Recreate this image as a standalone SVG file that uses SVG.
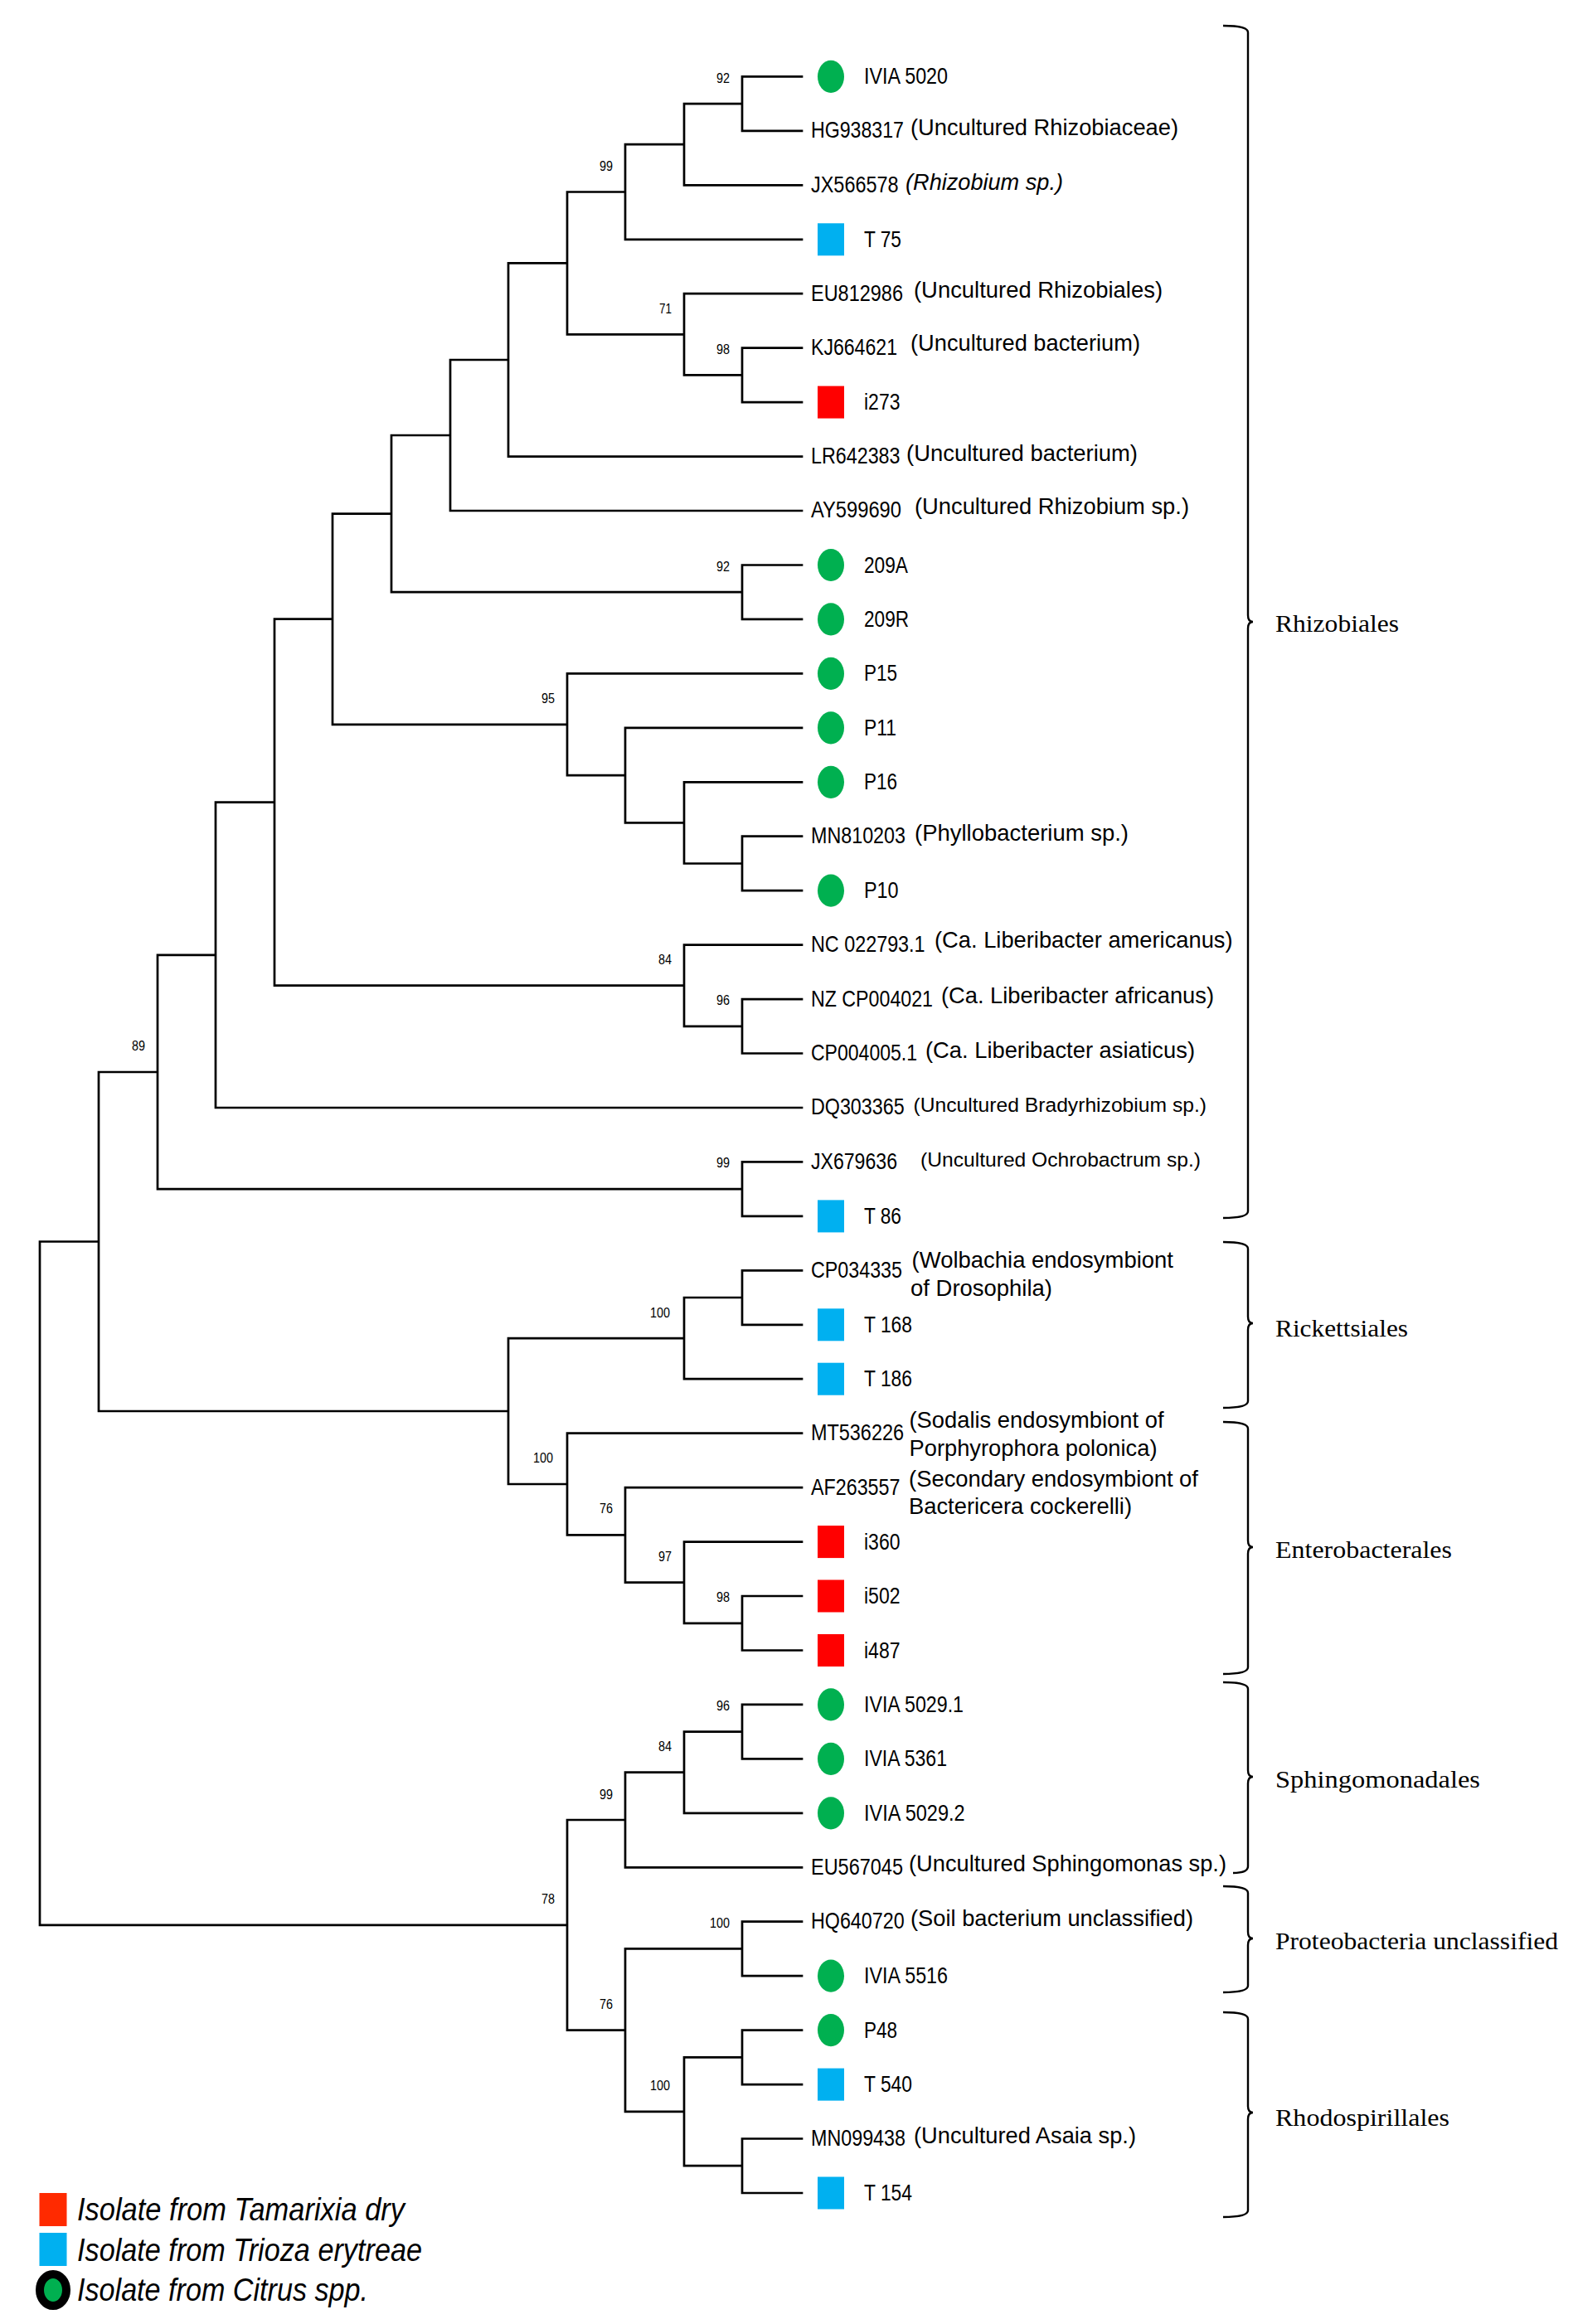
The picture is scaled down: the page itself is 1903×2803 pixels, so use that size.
<svg xmlns="http://www.w3.org/2000/svg" width="1903" height="2803" viewBox="0 0 1903 2803">
<defs>
<style>
.br{fill:none;stroke:#000;stroke-width:2.7;stroke-linecap:square}
.brace{fill:none;stroke:#000;stroke-width:2.4}
.t{font-family:"Liberation Sans",Arial,sans-serif;font-size:28px;fill:#000}
.a{font-size:24.5px}
.s{font-size:24.5px}
.it{font-style:italic}
.bs{font-family:"Liberation Sans",Arial,sans-serif;font-size:17px;fill:#000}
.cl{font-family:"Liberation Serif","Times New Roman",serif;font-size:29px;fill:#000}
.lg{font-family:"Liberation Sans",Arial,sans-serif;font-size:38px;font-style:italic;fill:#000}
.cir{fill:#00b050}
.sq{fill:#00b0f0}
.rd{fill:#ff0000}
</style>
</defs>
<rect width="1903" height="2803" fill="#fff"/>

<g id="connectors" class="br">
<path d="M895 92.4V157.9M895 92.4H967M895 157.9H967
M825 125.2V223.3M825 125.2H895M825 223.3H967
M754 174.2V288.8M754 174.2H825M754 288.8H967
M895 419.7V485.1M895 419.7H967M895 485.1H967
M825 354.2V452.4M825 354.2H967M825 452.4H895
M684 231.5V403.3M684 231.5H754M684 403.3H825
M613 317.4V550.6M613 317.4H684M613 550.6H967
M543 434V616M543 434H613M543 616H967
M895 681.5V746.9M895 681.5H967M895 746.9H967
M472 525V714.2M472 525H543M472 714.2H895
M895 1008.7V1074.2M895 1008.7H967M895 1074.2H967
M825 943.3V1041.5M825 943.3H967M825 1041.5H895
M754 877.8V992.4M754 877.8H967M754 992.4H825
M684 812.4V935.1M684 812.4H967M684 935.1H754
M401 619.6V873.8M401 619.6H472M401 873.8H684
M895 1205.1V1270.5M895 1205.1H967M895 1270.5H967
M825 1139.6V1237.8M825 1139.6H967M825 1237.8H895
M331 746.7V1188.7M331 746.7H401M331 1188.7H825
M260 967.7V1336M260 967.7H331M260 1336H967
M895 1401.4V1466.9M895 1401.4H967M895 1466.9H967
M190 1151.9V1434.2M190 1151.9H260M190 1434.2H895
M895 1532.3V1597.8M895 1532.3H967M895 1597.8H967
M825 1565V1663.2M825 1565H895M825 1663.2H967
M895 1925V1990.5M895 1925H967M895 1990.5H967
M825 1859.6V1957.8M825 1859.6H967M825 1957.8H895
M754 1794.1V1908.7M754 1794.1H967M754 1908.7H825
M684 1728.7V1851.4M684 1728.7H967M684 1851.4H754
M613 1614.1V1790M613 1614.1H825M613 1790H684
M119 1293V1702M119 1293H190M119 1702H613
M895 2055.9V2121.4M895 2055.9H967M895 2121.4H967
M825 2088.6V2186.8M825 2088.6H895M825 2186.8H967
M754 2137.7V2252.3M754 2137.7H825M754 2252.3H967
M895 2317.7V2383.2M895 2317.7H967M895 2383.2H967
M895 2448.6V2514.1M895 2448.6H967M895 2514.1H967
M895 2579.5V2645M895 2579.5H967M895 2645H967
M825 2481.3V2612.2M825 2481.3H895M825 2612.2H895
M754 2350.4V2546.8M754 2350.4H895M754 2546.8H825
M684 2195V2448.6M684 2195H754M684 2448.6H754
M48 1497.5V2321.8M48 1497.5H119M48 2321.8H684"/>
</g>

<g id="bootstrap" class="bs" text-anchor="end">
<text x="880" y="100" textLength="16" lengthAdjust="spacingAndGlyphs">92</text>
<text x="739" y="206" textLength="16" lengthAdjust="spacingAndGlyphs">99</text>
<text x="810" y="378" textLength="15" lengthAdjust="spacingAndGlyphs">71</text>
<text x="880" y="427" textLength="16" lengthAdjust="spacingAndGlyphs">98</text>
<text x="880" y="689" textLength="16" lengthAdjust="spacingAndGlyphs">92</text>
<text x="669" y="848" textLength="16" lengthAdjust="spacingAndGlyphs">95</text>
<text x="810" y="1163" textLength="16" lengthAdjust="spacingAndGlyphs">84</text>
<text x="880" y="1212" textLength="16" lengthAdjust="spacingAndGlyphs">96</text>
<text x="175" y="1267" textLength="16" lengthAdjust="spacingAndGlyphs">89</text>
<text x="880" y="1408" textLength="16" lengthAdjust="spacingAndGlyphs">99</text>
<text x="808" y="1589" textLength="24" lengthAdjust="spacingAndGlyphs">100</text>
<text x="667" y="1764" textLength="24" lengthAdjust="spacingAndGlyphs">100</text>
<text x="739" y="1825" textLength="16" lengthAdjust="spacingAndGlyphs">76</text>
<text x="810" y="1883" textLength="16" lengthAdjust="spacingAndGlyphs">97</text>
<text x="880" y="1932" textLength="16" lengthAdjust="spacingAndGlyphs">98</text>
<text x="880" y="2063" textLength="16" lengthAdjust="spacingAndGlyphs">96</text>
<text x="810" y="2112" textLength="16" lengthAdjust="spacingAndGlyphs">84</text>
<text x="739" y="2170" textLength="16" lengthAdjust="spacingAndGlyphs">99</text>
<text x="669" y="2296" textLength="16" lengthAdjust="spacingAndGlyphs">78</text>
<text x="739" y="2423" textLength="16" lengthAdjust="spacingAndGlyphs">76</text>
<text x="880" y="2325" textLength="24" lengthAdjust="spacingAndGlyphs">100</text>
<text x="808" y="2521" textLength="24" lengthAdjust="spacingAndGlyphs">100</text>
</g>

<g id="leaves" class="t">
<g id="leaf-IVIA5020"><ellipse class="cir" cx="1002" cy="92.4" rx="16" ry="19.6"/><text x="1042" y="101.4" textLength="101" lengthAdjust="spacingAndGlyphs">IVIA 5020</text></g>
<g id="leaf-HG938317"><text class="a" x="978" y="166.4" transform="translate(0 166.4) scale(1 1.12) translate(0 -166.4)" textLength="112" lengthAdjust="spacingAndGlyphs">HG938317</text><text x="1098" y="163" textLength="323" lengthAdjust="spacingAndGlyphs">(Uncultured Rhizobiaceae)</text></g>
<g id="leaf-JX566578"><text class="a" x="978" y="231.8" transform="translate(0 231.8) scale(1 1.12) translate(0 -231.8)" textLength="105.6" lengthAdjust="spacingAndGlyphs">JX566578</text><text class="it" x="1092" y="229.3" textLength="190" lengthAdjust="spacingAndGlyphs">(Rhizobium sp.)</text></g>
<g id="leaf-T75"><rect class="sq" x="986" y="269.3" width="32" height="39"/><text x="1042" y="297.8" textLength="45" lengthAdjust="spacingAndGlyphs">T 75</text></g>
<g id="leaf-EU812986"><text class="a" x="978" y="362.7" transform="translate(0 362.7) scale(1 1.12) translate(0 -362.7)" textLength="111" lengthAdjust="spacingAndGlyphs">EU812986</text><text x="1102" y="359.2" textLength="300" lengthAdjust="spacingAndGlyphs">(Uncultured Rhizobiales)</text></g>
<g id="leaf-KJ664621"><text class="a" x="978" y="428.2" transform="translate(0 428.2) scale(1 1.12) translate(0 -428.2)" textLength="104" lengthAdjust="spacingAndGlyphs">KJ664621</text><text x="1098" y="422.5" textLength="277" lengthAdjust="spacingAndGlyphs">(Uncultured bacterium)</text></g>
<g id="leaf-i273"><rect class="rd" x="986" y="465.6" width="32" height="39"/><text x="1042" y="494.1" textLength="43.5" lengthAdjust="spacingAndGlyphs">i273</text></g>
<g id="leaf-LR642383"><text class="a" x="978" y="559.1" transform="translate(0 559.1) scale(1 1.12) translate(0 -559.1)" textLength="107.5" lengthAdjust="spacingAndGlyphs">LR642383</text><text x="1093" y="556" textLength="279" lengthAdjust="spacingAndGlyphs">(Uncultured bacterium)</text></g>
<g id="leaf-AY599690"><text class="a" x="978" y="624.5" transform="translate(0 624.5) scale(1 1.12) translate(0 -624.5)" textLength="109" lengthAdjust="spacingAndGlyphs">AY599690</text><text x="1103" y="619.5" textLength="331" lengthAdjust="spacingAndGlyphs">(Uncultured Rhizobium sp.)</text></g>
<g id="leaf-209A"><ellipse class="cir" cx="1002" cy="681.5" rx="16" ry="19.6"/><text x="1042" y="690.5" textLength="53" lengthAdjust="spacingAndGlyphs">209A</text></g>
<g id="leaf-209R"><ellipse class="cir" cx="1002" cy="746.9" rx="16" ry="19.6"/><text x="1042" y="755.9" textLength="54" lengthAdjust="spacingAndGlyphs">209R</text></g>
<g id="leaf-P15"><ellipse class="cir" cx="1002" cy="812.4" rx="16" ry="19.6"/><text x="1042" y="821.4" textLength="40" lengthAdjust="spacingAndGlyphs">P15</text></g>
<g id="leaf-P11"><ellipse class="cir" cx="1002" cy="877.8" rx="16" ry="19.6"/><text x="1042" y="886.8" textLength="39" lengthAdjust="spacingAndGlyphs">P11</text></g>
<g id="leaf-P16"><ellipse class="cir" cx="1002" cy="943.3" rx="16" ry="19.6"/><text x="1042" y="952.3" textLength="40" lengthAdjust="spacingAndGlyphs">P16</text></g>
<g id="leaf-MN810203"><text class="a" x="978" y="1017.2" transform="translate(0 1017.2) scale(1 1.12) translate(0 -1017.2)" textLength="114" lengthAdjust="spacingAndGlyphs">MN810203</text><text x="1103" y="1013.5" textLength="258" lengthAdjust="spacingAndGlyphs">(Phyllobacterium sp.)</text></g>
<g id="leaf-P10"><ellipse class="cir" cx="1002" cy="1074.2" rx="16" ry="19.6"/><text x="1042" y="1083.2" textLength="41.6" lengthAdjust="spacingAndGlyphs">P10</text></g>
<g id="leaf-NC022793"><text class="a" x="978" y="1148.1" transform="translate(0 1148.1) scale(1 1.12) translate(0 -1148.1)" textLength="137.6" lengthAdjust="spacingAndGlyphs">NC 022793.1</text><text x="1127" y="1142.5" textLength="359.6" lengthAdjust="spacingAndGlyphs">(Ca. Liberibacter americanus)</text></g>
<g id="leaf-NZCP004021"><text class="a" x="978" y="1213.6" transform="translate(0 1213.6) scale(1 1.12) translate(0 -1213.6)" textLength="147" lengthAdjust="spacingAndGlyphs">NZ CP004021</text><text x="1135" y="1210" textLength="329" lengthAdjust="spacingAndGlyphs">(Ca. Liberibacter africanus)</text></g>
<g id="leaf-CP004005"><text class="a" x="978" y="1279" transform="translate(0 1279) scale(1 1.12) translate(0 -1279)" textLength="128" lengthAdjust="spacingAndGlyphs">CP004005.1</text><text x="1116" y="1275.5" textLength="325" lengthAdjust="spacingAndGlyphs">(Ca. Liberibacter asiaticus)</text></g>
<g id="leaf-DQ303365"><text class="a" x="978" y="1344.5" transform="translate(0 1344.5) scale(1 1.12) translate(0 -1344.5)" textLength="112.6" lengthAdjust="spacingAndGlyphs">DQ303365</text><text class="s" x="1101.5" y="1341" textLength="353.5" lengthAdjust="spacingAndGlyphs">(Uncultured Bradyrhizobium sp.)</text></g>
<g id="leaf-JX679636"><text class="a" x="978" y="1409.9" transform="translate(0 1409.9) scale(1 1.12) translate(0 -1409.9)" textLength="104" lengthAdjust="spacingAndGlyphs">JX679636</text><text class="s" x="1110" y="1406.5" textLength="338" lengthAdjust="spacingAndGlyphs">(Uncultured Ochrobactrum sp.)</text></g>
<g id="leaf-T86"><rect class="sq" x="986" y="1447.4" width="32" height="39"/><text x="1042" y="1475.9" textLength="45" lengthAdjust="spacingAndGlyphs">T 86</text></g>
<g id="leaf-CP034335"><text class="a" x="978" y="1540.6" transform="translate(0 1540.6) scale(1 1.12) translate(0 -1540.6)" textLength="110" lengthAdjust="spacingAndGlyphs">CP034335</text><text><tspan x="1099.6" y="1529.3" textLength="315.4" lengthAdjust="spacingAndGlyphs">(Wolbachia endosymbiont</tspan><tspan x="1098" y="1563.3" textLength="171" lengthAdjust="spacingAndGlyphs">of Drosophila)</tspan></text></g>
<g id="leaf-T168"><rect class="sq" x="986" y="1578.3" width="32" height="39"/><text x="1042" y="1606.8" textLength="58" lengthAdjust="spacingAndGlyphs">T 168</text></g>
<g id="leaf-T186"><rect class="sq" x="986" y="1643.7" width="32" height="39"/><text x="1042" y="1672.2" textLength="58" lengthAdjust="spacingAndGlyphs">T 186</text></g>
<g id="leaf-MT536226"><text class="a" x="978" y="1737.2" transform="translate(0 1737.2) scale(1 1.12) translate(0 -1737.2)" textLength="112" lengthAdjust="spacingAndGlyphs">MT536226</text><text><tspan x="1096.5" y="1722" textLength="307" lengthAdjust="spacingAndGlyphs">(Sodalis endosymbiont of</tspan><tspan x="1096.5" y="1755.5" textLength="299" lengthAdjust="spacingAndGlyphs">Porphyrophora polonica)</tspan></text></g>
<g id="leaf-AF263557"><text class="a" x="978" y="1803.3" transform="translate(0 1803.3) scale(1 1.12) translate(0 -1803.3)" textLength="107.5" lengthAdjust="spacingAndGlyphs">AF263557</text><text><tspan x="1096" y="1792.7" textLength="349" lengthAdjust="spacingAndGlyphs">(Secondary endosymbiont of</tspan><tspan x="1096" y="1826" textLength="269" lengthAdjust="spacingAndGlyphs">Bactericera cockerelli)</tspan></text></g>
<g id="leaf-i360"><rect class="rd" x="986" y="1840.1" width="32" height="39"/><text x="1042" y="1868.6" textLength="43.5" lengthAdjust="spacingAndGlyphs">i360</text></g>
<g id="leaf-i502"><rect class="rd" x="986" y="1905.5" width="32" height="39"/><text x="1042" y="1934" textLength="43.5" lengthAdjust="spacingAndGlyphs">i502</text></g>
<g id="leaf-i487"><rect class="rd" x="986" y="1971" width="32" height="39"/><text x="1042" y="1999.5" textLength="43.5" lengthAdjust="spacingAndGlyphs">i487</text></g>
<g id="leaf-IVIA5029-1"><ellipse class="cir" cx="1002" cy="2055.9" rx="16" ry="19.6"/><text x="1042" y="2064.9" textLength="120" lengthAdjust="spacingAndGlyphs">IVIA 5029.1</text></g>
<g id="leaf-IVIA5361"><ellipse class="cir" cx="1002" cy="2121.4" rx="16" ry="19.6"/><text x="1042" y="2130.4" textLength="100" lengthAdjust="spacingAndGlyphs">IVIA 5361</text></g>
<g id="leaf-IVIA5029-2"><ellipse class="cir" cx="1002" cy="2186.8" rx="16" ry="19.6"/><text x="1042" y="2195.8" textLength="121.6" lengthAdjust="spacingAndGlyphs">IVIA 5029.2</text></g>
<g id="leaf-EU567045"><text class="a" x="978" y="2260.8" transform="translate(0 2260.8) scale(1 1.12) translate(0 -2260.8)" textLength="111" lengthAdjust="spacingAndGlyphs">EU567045</text><text x="1096" y="2257.3" textLength="383" lengthAdjust="spacingAndGlyphs">(Uncultured Sphingomonas sp.)</text></g>
<g id="leaf-HQ640720"><text class="a" x="978" y="2326.2" transform="translate(0 2326.2) scale(1 1.12) translate(0 -2326.2)" textLength="112.6" lengthAdjust="spacingAndGlyphs">HQ640720</text><text x="1098" y="2322.7" textLength="341" lengthAdjust="spacingAndGlyphs">(Soil bacterium unclassified)</text></g>
<g id="leaf-IVIA5516"><ellipse class="cir" cx="1002" cy="2383.2" rx="16" ry="19.6"/><text x="1042" y="2392.2" textLength="101" lengthAdjust="spacingAndGlyphs">IVIA 5516</text></g>
<g id="leaf-P48"><ellipse class="cir" cx="1002" cy="2448.6" rx="16" ry="19.6"/><text x="1042" y="2457.6" textLength="40" lengthAdjust="spacingAndGlyphs">P48</text></g>
<g id="leaf-T540"><rect class="sq" x="986" y="2494.6" width="32" height="39"/><text x="1042" y="2523.1" textLength="58" lengthAdjust="spacingAndGlyphs">T 540</text></g>
<g id="leaf-MN099438"><text class="a" x="978" y="2588" transform="translate(0 2588) scale(1 1.12) translate(0 -2588)" textLength="114" lengthAdjust="spacingAndGlyphs">MN099438</text><text x="1102" y="2584.5" textLength="268" lengthAdjust="spacingAndGlyphs">(Uncultured Asaia sp.)</text></g>
<g id="leaf-T154"><rect class="sq" x="986" y="2625.5" width="32" height="39"/><text x="1042" y="2654" textLength="58" lengthAdjust="spacingAndGlyphs">T 154</text></g>
</g>

<g id="clades">
<g id="clade-Rhizobiales"><path class="brace" d="M1475 31Q1505 31 1505 39V742Q1505 750 1511 750Q1505 750 1505 758V1461Q1505 1469 1475 1469"/><text class="cl" x="1538" y="762" textLength="149" lengthAdjust="spacingAndGlyphs">Rhizobiales</text></g>
<g id="clade-Rickettsiales"><path class="brace" d="M1475 1498Q1505 1498 1505 1506V1588Q1505 1596 1511 1596Q1505 1596 1505 1604V1690Q1505 1698 1475 1698"/><text class="cl" x="1538" y="1612" textLength="160" lengthAdjust="spacingAndGlyphs">Rickettsiales</text></g>
<g id="clade-Enterobacterales"><path class="brace" d="M1475 1715Q1505 1715 1505 1723V1858Q1505 1866 1511 1866Q1505 1866 1505 1874V2011Q1505 2019 1475 2019"/><text class="cl" x="1538" y="1879" textLength="213" lengthAdjust="spacingAndGlyphs">Enterobacterales</text></g>
<g id="clade-Sphingomonadales"><path class="brace" d="M1475 2029Q1505 2029 1505 2037V2135Q1505 2143 1511 2143Q1505 2143 1505 2151V2251Q1505 2259 1487 2259"/><text class="cl" x="1538" y="2156" textLength="247" lengthAdjust="spacingAndGlyphs">Sphingomonadales</text></g>
<g id="clade-Proteobacteria"><path class="brace" d="M1475 2275Q1505 2275 1505 2283V2330Q1505 2338 1511 2338Q1505 2338 1505 2346V2395Q1505 2403 1475 2403"/><text class="cl" x="1538" y="2351" textLength="341" lengthAdjust="spacingAndGlyphs">Proteobacteria unclassified</text></g>
<g id="clade-Rhodospirillales"><path class="brace" d="M1475 2427Q1505 2427 1505 2435V2540Q1505 2548 1511 2548Q1505 2548 1505 2556V2666Q1505 2674 1475 2674"/><text class="cl" x="1538" y="2564" textLength="210" lengthAdjust="spacingAndGlyphs">Rhodospirillales</text></g>
</g>

<g id="legend">
<rect x="47.5" y="2645" width="33" height="40" fill="#ff2a00"/>
<text class="lg" x="93" y="2678" textLength="395" lengthAdjust="spacingAndGlyphs">Isolate from Tamarixia dry</text>
<rect x="47.5" y="2693" width="33" height="40" fill="#00b0f0"/>
<text class="lg" x="93" y="2727" textLength="416" lengthAdjust="spacingAndGlyphs">Isolate from Trioza erytreae</text>
<ellipse cx="64" cy="2762" rx="16" ry="19" fill="#00b050" stroke="#000" stroke-width="10"/>
<text class="lg" x="93" y="2775" textLength="351" lengthAdjust="spacingAndGlyphs">Isolate from Citrus spp.</text>
</g>
</svg>
